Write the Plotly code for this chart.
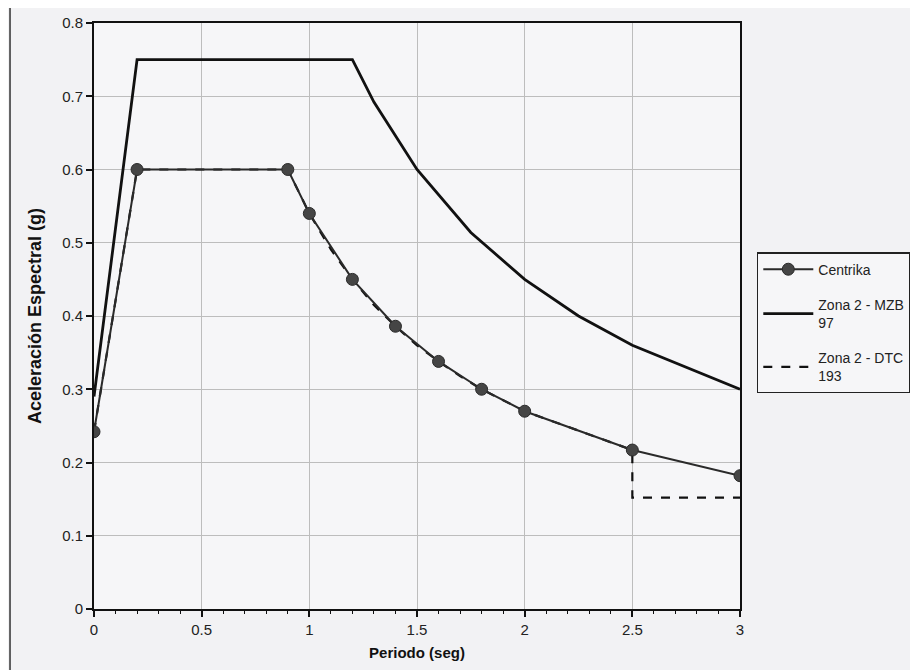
import plotly.graph_objects as go

# Data
centrika_T = [0.0, 0.2, 0.9, 1.0, 1.2, 1.4, 1.6, 1.8, 2.0, 2.5, 3.0]
centrika_A = [0.242, 0.60, 0.60, 0.54, 0.45, 0.386, 0.338, 0.300, 0.270, 0.217, 0.182]

mzb_T = [0.0, 0.2, 1.2, 1.3, 1.5, 1.75, 2.0, 2.25, 2.5, 3.0]
mzb_A = [0.29, 0.75, 0.75, 0.692, 0.60, 0.514, 0.45, 0.40, 0.36, 0.30]

dtc_T = [0.0, 0.2, 0.9, 1.0, 1.1, 1.2, 1.3, 1.4, 1.5, 1.6, 1.7, 1.8, 2.0, 2.5, 2.5, 3.0]
dtc_A = [0.242, 0.60, 0.60, 0.54, 0.491, 0.45, 0.415, 0.386, 0.360, 0.338, 0.318, 0.300, 0.270,
         0.217, 0.152, 0.152]

x_ticks = [0, 0.5, 1, 1.5, 2, 2.5, 3]
x_labels = ["0", "0.5", "1", "1.5", "2", "2.5", "3"]
y_ticks = [0, 0.1, 0.2, 0.3, 0.4, 0.5, 0.6, 0.7, 0.8]
y_labels = ["0", "0.1", "0.2", "0.3", "0.4", "0.5", "0.6", "0.7", "0.8"]

fig = go.Figure()
fig.add_trace(go.Scatter(
    x=dtc_T, y=dtc_A, mode="lines", name="Zona 2 - DTC<br>193", legendrank=3, legendgroup="c",
    line=dict(color="#111111", width=2.2, dash="dash"),
))
fig.add_trace(go.Scatter(
    x=mzb_T, y=mzb_A, mode="lines", name="Zona 2 - MZB<br>97", legendrank=2, legendgroup="b",
    line=dict(color="#111111", width=2.8),
))
fig.add_trace(go.Scatter(
    x=centrika_T, y=centrika_A, mode="lines+markers", name="Centrika", legendrank=1, legendgroup="a",
    line=dict(color="#2a2a2a", width=2),
    marker=dict(symbol="circle", size=12, color="#454545", line=dict(color="#2a2a2a", width=1)),
))

tick_font = dict(family="Liberation Sans, Arial, sans-serif", size=15, color="#222")

# page body adds an 8px offset, so margins are reduced by 8 on left/top
fig.update_layout(
    width=918, height=670,
    margin=dict(l=86, r=186, t=15, b=69, autoexpand=False),
    paper_bgcolor="#f2f2f4",
    plot_bgcolor="#f6f6f8",
    showlegend=True,
    legend=dict(
        x=1.026, y=0.609, xanchor="left", yanchor="top",
        bgcolor="#f6f6f8", bordercolor="#222", borderwidth=1.5,
        font=dict(family="Liberation Sans, Arial, sans-serif", size=14, color="#222"),
        tracegroupgap=14, traceorder="grouped", itemwidth=50,
        entrywidth=190, entrywidthmode="pixels",
    ),
    shapes=[dict(type="rect", xref="paper", yref="paper",
                 x0=-0.130, y0=-0.2, x1=1.4, y1=1.034,
                 line=dict(color="#333", width=1.5), fillcolor="rgba(0,0,0,0)", layer="below")],
)
fig.update_xaxes(
    range=[0, 3], tickvals=x_ticks, ticktext=x_labels, automargin=False,
    showgrid=True, gridcolor="#bdbdbd", gridwidth=1,
    showline=True, linecolor="#111", linewidth=2, mirror=True,
    ticks="outside", ticklen=6, tickwidth=1.5, tickcolor="#111",
    minor=dict(dtick=0.1, ticks="outside", ticklen=3, tickwidth=1.2, tickcolor="#111", showgrid=False),
    tickfont=tick_font, zeroline=False,
    title=dict(text="<b>Periodo (seg)</b>",
               font=dict(family="Liberation Sans, Arial, sans-serif", size=15, color="#111"),
               standoff=10),
)
fig.update_yaxes(
    range=[0, 0.8], tickvals=y_ticks, ticktext=y_labels, automargin=False,
    showgrid=True, gridcolor="#bdbdbd", gridwidth=1,
    showline=True, linecolor="#111", linewidth=2, mirror=True,
    ticks="outside", ticklen=6, tickwidth=1.5, tickcolor="#111",
    tickfont=tick_font, zeroline=False,
    title=dict(text="<b>Aceleración Espectral (g)</b>",
               font=dict(family="Liberation Sans, Arial, sans-serif", size=18, color="#111"),
               standoff=16),
)

fig.write_html("out.html")
